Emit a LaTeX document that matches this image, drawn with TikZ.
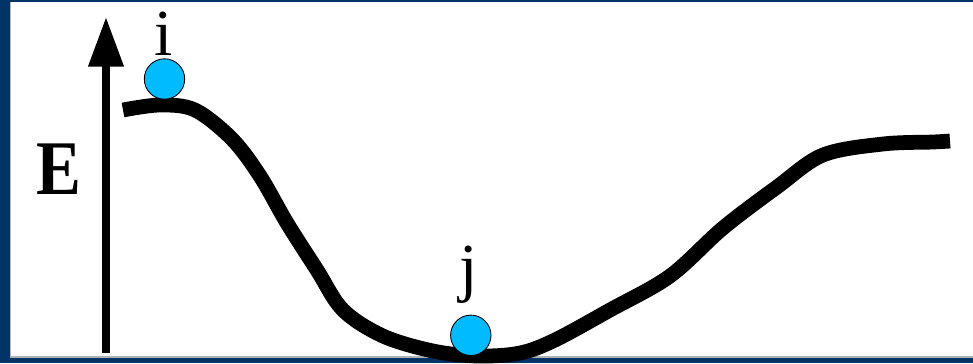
\documentclass[tikz,border=0pt]{standalone}
\usepackage{fontspec}
\setmainfont{Liberation Serif}
\usetikzlibrary{arrows.meta}
\definecolor{slidenavy}{RGB}{0,51,102}
\definecolor{ballcyan}{RGB}{0,187,255}

\begin{document}
\begin{tikzpicture}[
    x=0.02cm, y=-0.02cm,
    ball/.style={circle, draw=black, line width=0.5pt, fill=ballcyan,
                 minimum size=23pt, inner sep=0pt},
    lbl/.style={anchor=base, inner sep=0pt,
                font=\fontsize{37.4}{40}\selectfont},
    axis/.style={line width=4.5pt, -{Triangle[length=28.3pt, width=19.3pt]}},
    curve/.style={line width=8.4pt, line join=round}
  ]
  % slide frame
  \fill[white] (0,0) rectangle (973,363);
  \useasboundingbox (0,0) rectangle (973,363);
  \fill[slidenavy] (0,0) rectangle (10,363);
  \fill[slidenavy] (0,0) rectangle (973,2);
  \fill[slidenavy] (0,357.5) rectangle (973,363);
  \draw[gray!60, line width=0.6pt] (10.5,2) -- (10.5,357) -- (973,357);

  % energy axis
  \coordinate (ebot) at (106,353);
  \coordinate (etop) at (106,17);
  \draw[axis] (ebot) -- (etop);
  \node[anchor=base, inner sep=0pt, xscale=0.87,
        font=\fontsize{44}{46}\selectfont\bfseries] (elbl) at (59,194) {E};

  % energy landscape
  \draw[curve] plot[smooth, tension=0.55] coordinates {
    (123,110) (160,105) (195,110) (232,139) (260,176) (287,223)
    (317,270) (343,310) (383,336) (433,351) (478,356) (520,353)
    (555,340) (610,310) (670,276) (723,228) (777,187) (823,155)
    (883,144) (933,142) (950,141)};

  % states
  \node[ball] (bi) at (164.5,79) {};
  \node[ball] (bj) at (470.8,335.3) {};
  \node[lbl] (li) at (163.5,55) {i};
  \node[lbl] (lj) at (469,289) {j};
\end{tikzpicture}
\end{document}
